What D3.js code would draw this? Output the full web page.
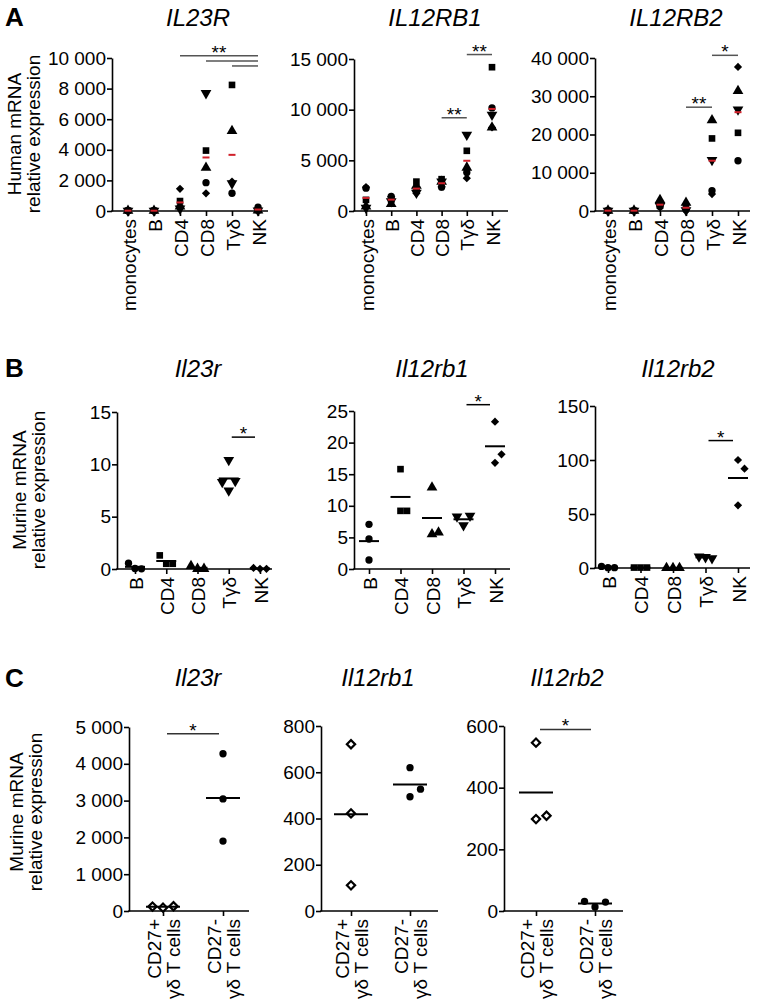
<!DOCTYPE html>
<html>
<head>
<meta charset="utf-8">
<script src="https://cdn.jsdelivr.net/npm/d3@7"></script>
<style>
  body { margin: 0; background: #fff; }
  svg { display: block; }
  text { font-family: "Liberation Sans", Arial, sans-serif; fill: #000; }
</style>
</head>
<body>
<svg id="fig" width="760" height="1008"></svg>
<script>
// ---- categories ----
var humanCells = ["monocytes", "B", "CD4", "CD8", "Tγδ", "NK"];
var mouseCells = ["B", "CD4", "CD8", "Tγδ", "NK"];
var gdCells = ["CD27+\nγδ T cells", "CD27-\nγδ T cells"];

// ---- A: human, one value per donor (circle, square, triangle, down triangle, diamond) ----
var hIL23R = [[20, 30, 15, 10, 25], [20, 25, 15, 10, 30], [250, 650, 300, 150, 1450],
  [1850, 3950, 2830, 7700, 1160], [1160, 8240, 5230, 1800, 1920], [250, 60, 40, 30, 100]];
var hIL12RB1 = [[2250, 1100, 450, 300, 2350], [1450, 1100, 700, 950, 1400], [2100, 2900, 2500, 1800, 1750],
  [2350, 3140, 2900, 2900, 2400], [3800, 5940, 4290, 7520, 3240], [10170, 14190, 8250, 9500, 8250]];
var hIL12RB2 = [[100, 80, 120, 60, 90], [100, 80, 120, 60, 90], [1200, 1400, 2870, 1300, 1500],
  [300, 1200, 2170, 200, 400], [5300, 18970, 23750, 13300, 4440], [13130, 20440, 31400, 26540, 37660]];

// ---- B: murine cell subsets ----
var mIl23r = [[0.05, 0.02, 0.55], [0.5, 0.5, 1.3], [0.02, 0.02, 0.3], [10.4, 7.5, 8.4, 8.3], [0.02, 0.02, 0.1]];
var mIl12rb1 = [[7.07, 4.75, 1.42], [15.8, 9.2, 9.2], [12.9, 5.5, 5.8], [6.9, 8.4, 8.3], [23.3, 16.8, 18.15]];
var mIl12rb2 = [[0.3, 0.3, 1.5], [0.4, 0.4, 0.4], [0.1, 0.1, 0.1], [10, 9, 10.5], [100, 58, 92]];

// ---- C: CD27+ / CD27- gd T cells ----
var gdIl23r = [[90, 130, 120], [4273, 3046, 1900]];
var gdIl12rb1 = [[721, 422, 111], [620, 494, 527]];
var gdIl12rb2 = [[546, 298, 309], [13, 29, 31.5]];

// ---- tick labels ----
var ticksHIL23R = [0, 2000, 4000, 6000, 8000, 10000];
var ticksHIL12RB1 = [0, 5000, 10000, 15000];
var ticksHIL12RB2 = [0, 10000, 20000, 30000, 40000];
var ticksMIl23r = [0, 5, 10, 15];
var ticksMIl12rb1 = [0, 5, 10, 15, 20, 25];
var ticksMIl12rb2 = [0, 50, 100, 150];
var ticksGdIl23r = [0, 1000, 2000, 3000, 4000, 5000];
var ticksGdIl12rb1 = [0, 200, 400, 600, 800];
var ticksGdIl12rb2 = [0, 200, 400, 600];

// ---- significance bars (from, to, height in data units, label) ----
var sigHIL23R = [["CD4", "NK", 10140, "**"], ["CD8", "NK", 9810, ""], ["Tγδ", "NK", 9480, ""]];
var sigHIL12RB1 = [["CD8", "Tγδ", 9200, "**"], ["Tγδ", "NK", 15440, "**"]];
var sigHIL12RB2 = [["CD8", "Tγδ", 27140, "**"], ["Tγδ", "NK", 40700, "*"]];
var sigMIl23r = [["Tγδ", "NK", 12.6, "*"]];
var sigMIl12rb1 = [["Tγδ", "NK", 26.0, "*"]];
var sigMIl12rb2 = [["Tγδ", "NK", 118, "*"]];
var sigGdIl23r = [[gdCells[0], gdCells[1], 4819, "*"]];
var sigGdIl12rb2 = [[gdCells[0], gdCells[1], 589, "*"]];

var donorShapes = ["circle", "square", "triangle", "triDown", "diamond"];
var red = "#d0202a";
var fs = 19;

var svg = d3.select("#fig");
svg.append("rect").attr("width", 760).attr("height", 1008).attr("fill", "#fff");

var fmt = function(d){ return d3.format(",")(d).replace(/,/g, " "); };

var sizes = { circle: 42, square: 44, triangle: 50, triDown: 50, diamond: 34, openDiamond: 34 };

function shapePath(s){
  var type = (s === "circle") ? d3.symbolCircle
           : (s === "triangle" || s === "triDown") ? d3.symbolTriangle
           : d3.symbolSquare;
  return d3.symbol(type, sizes[s])();
}
function shapeRot(s){
  if (s === "triDown") return 180;
  if (s === "diamond" || s === "openDiamond") return 45;
  return 0;
}

// place points of one group side by side when they overlap
function spread(vals, y, step, thr){
  var placed = [];
  return vals.map(function(v){
    var py = y(v);
    for (var k = 0; k < 20; k++){
      var off = k === 0 ? 0 : (k % 2 ? 1 : -1) * Math.ceil(k / 2) * step;
      var hit = placed.some(function(p){
        return Math.abs(p.dx - off) < step * 0.9 && Math.abs(p.py - py) < thr;
      });
      if (!hit){ placed.push({dx: off, py: py}); return off; }
    }
    return 0;
  });
}

function drawPlot(p){
  var L = p.layout;
  var g = svg.append("g");
  var x = d3.scalePoint().domain(p.cats).range(L.xr);
  var y = d3.scaleLinear().domain([0, d3.max(p.ticks)]).range([L.y0, L.yTop]);

  // title
  g.append("text").attr("x", L.titleX).attr("y", L.titleY)
    .attr("text-anchor", "middle").attr("font-size", 24).attr("font-style", "italic")
    .text(p.title);

  // y axis
  var yAxis = d3.axisLeft(y).tickValues(p.ticks).tickFormat(fmt).tickSize(5).tickSizeOuter(0);
  var ya = g.append("g").attr("transform", "translate(" + L.ax + ",0)").call(yAxis);
  ya.attr("font-size", fs).attr("font-family", null);
  ya.selectAll("path,line").attr("stroke", "#000").attr("stroke-width", 1.6);
  ya.selectAll("text").attr("x", -6);

  // x axis
  g.append("line").attr("x1", L.ax - 0.8).attr("x2", L.xEnd).attr("y1", L.y0).attr("y2", L.y0)
    .attr("stroke", "#000").attr("stroke-width", 1.6);
  var xAxis = d3.axisBottom(x).tickSize(5).tickSizeOuter(0);
  var xa = g.append("g").attr("transform", "translate(0," + L.y0 + ")").call(xAxis);
  xa.select(".domain").remove();
  xa.attr("font-size", fs).attr("font-family", null);
  xa.selectAll("line").attr("stroke", "#000").attr("stroke-width", 1.6);
  xa.selectAll("text").each(function(d){
    var t = d3.select(this).text("").attr("transform", "rotate(-90)")
      .attr("text-anchor", "end").attr("x", -8).attr("y", 0).attr("dy", null);
    var lines = d.split("\n");
    if (lines.length === 1){
      t.append("tspan").attr("x", -8).attr("y", 7).text(lines[0]);
    } else {
      t.append("tspan").attr("x", -8).attr("y", -3).text(lines[0]);
      t.append("tspan").attr("x", -8).attr("y", 16).text(lines[1]);
    }
  });

  // points
  p.vals.forEach(function(vals, i){
    var cx = x(p.cats[i]);
    var offs = p.jitter ? spread(vals, y, p.jitter.step, p.jitter.thr) : vals.map(function(){ return 0; });
    vals.forEach(function(v, j){
      var s = p.shape(i, j);
      g.append("path").attr("d", shapePath(s))
        .attr("transform", "translate(" + (cx + offs[j]) + "," + y(v) + ") rotate(" + shapeRot(s) + ")")
        .attr("fill", s === "openDiamond" ? "#fff" : "#000")
        .attr("stroke", s === "openDiamond" ? "#000" : "none")
        .attr("stroke-width", 2.2);
    });
    // mean
    var m = d3.mean(vals);
    g.append("line").attr("x1", cx - p.meanHalf).attr("x2", cx + p.meanHalf)
      .attr("y1", y(m)).attr("y2", y(m))
      .attr("stroke", p.meanColor).attr("stroke-width", 2);
  });

  // significance
  p.sig.forEach(function(s){
    var x1 = x(s[0]) + p.sigInset[0], x2 = x(s[1]) + p.sigInset[1], yy = y(s[2]);
    g.append("line").attr("x1", x1).attr("x2", x2).attr("y1", yy).attr("y2", yy)
      .attr("stroke", p.sigColor).attr("stroke-width", 1.5);
    if (s[3]) g.append("text").attr("x", (x1 + x2) / 2).attr("y", yy + 3)
      .attr("text-anchor", "middle").attr("font-size", fs).text(s[3]);
  });
}

var humanShape = function(i, j){ return donorShapes[j]; };
var mouseShape = function(i, j){ return donorShapes[i]; };
var gdShape = function(i, j){ return i === 0 ? "openDiamond" : "circle"; };

var plots = [
  { title: "IL23R", cats: humanCells, vals: hIL23R, ticks: ticksHIL23R, sig: sigHIL23R, shape: humanShape,
    layout: { ax: 112, xr: [128, 258], xEnd: 268, y0: 211, yTop: 58, titleX: 198, titleY: 26 } },
  { title: "IL12RB1", cats: humanCells, vals: hIL12RB1, ticks: ticksHIL12RB1, sig: sigHIL12RB1, shape: humanShape,
    layout: { ax: 354, xr: [366, 492], xEnd: 508, y0: 211, yTop: 59, titleX: 435, titleY: 26 } },
  { title: "IL12RB2", cats: humanCells, vals: hIL12RB2, ticks: ticksHIL12RB2, sig: sigHIL12RB2, shape: humanShape,
    layout: { ax: 595, xr: [608, 738], xEnd: 750, y0: 211, yTop: 58, titleX: 676, titleY: 26 } },
  { title: "Il23r", cats: mouseCells, vals: mIl23r, ticks: ticksMIl23r, sig: sigMIl23r, shape: mouseShape,
    layout: { ax: 117, xr: [135, 260], xEnd: 272, y0: 569, yTop: 412, titleX: 198, titleY: 377 } },
  { title: "Il12rb1", cats: mouseCells, vals: mIl12rb1, ticks: ticksMIl12rb1, sig: sigMIl12rb1, shape: mouseShape,
    layout: { ax: 354, xr: [369, 495], xEnd: 510, y0: 569, yTop: 411, titleX: 432, titleY: 377 } },
  { title: "Il12rb2", cats: mouseCells, vals: mIl12rb2, ticks: ticksMIl12rb2, sig: sigMIl12rb2, shape: mouseShape,
    layout: { ax: 595, xr: [608, 738], xEnd: 750, y0: 568, yTop: 406, titleX: 678, titleY: 377 } },
  { title: "Il23r", cats: gdCells, vals: gdIl23r, ticks: ticksGdIl23r, sig: sigGdIl23r, shape: gdShape,
    layout: { ax: 129, xr: [163, 223], xEnd: 249, y0: 911, yTop: 727, titleX: 198, titleY: 686 } },
  { title: "Il12rb1", cats: gdCells, vals: gdIl12rb1, ticks: ticksGdIl12rb1, sig: [], shape: gdShape,
    layout: { ax: 321, xr: [351, 410], xEnd: 438, y0: 911, yTop: 726, titleX: 378, titleY: 686 } },
  { title: "Il12rb2", cats: gdCells, vals: gdIl12rb2, ticks: ticksGdIl12rb2, sig: sigGdIl12rb2, shape: gdShape,
    layout: { ax: 504, xr: [536, 595], xEnd: 623, y0: 911, yTop: 726, titleX: 567, titleY: 686 } }
];

plots.forEach(function(p, k){
  if (k < 3){ p.meanColor = red; p.meanHalf = 3.5; p.sigColor = "#555"; p.sigInset = [0, 0]; p.jitter = null; }
  else if (k < 6){ p.meanColor = "#000"; p.meanHalf = 10; p.sigColor = "#000"; p.sigInset = [3, -5]; p.jitter = { step: 6.5, thr: 10 }; }
  else { p.meanColor = "#000"; p.meanHalf = 17; p.sigColor = "#333"; p.sigInset = [4, -4]; p.jitter = { step: 10.5, thr: 10 }; }
  drawPlot(p);
});

// panel letters
[["A", 26], ["B", 377], ["C", 687]].forEach(function(d){
  svg.append("text").attr("x", 5).attr("y", d[1]).attr("font-size", 26).attr("font-weight", "bold").text(d[0]);
});

// y titles
[[["Human mRNA", "relative expression"], 134, 21], [["Murine mRNA", "relative expression"], 490, 26],
 [["Murine mRNA", "relative expression"], 812, 23]].forEach(function(d){
  var t = svg.append("text").attr("transform", "translate(" + d[2] + "," + d[1] + ") rotate(-90)")
    .attr("text-anchor", "middle").attr("font-size", fs);
  t.append("tspan").attr("x", 0).attr("y", 0).text(d[0][0]);
  t.append("tspan").attr("x", 0).attr("y", 19).text(d[0][1]);
});
</script>
</body>
</html>
